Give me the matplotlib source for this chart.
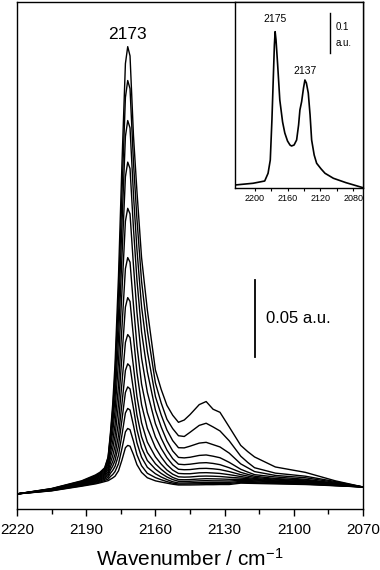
import matplotlib
matplotlib.use('Agg')
import matplotlib.pyplot as plt
from matplotlib.ticker import MultipleLocator, FixedLocator

plt.rcParams['font.family'] = ['Liberation Sans', 'DejaVu Sans']
plt.rcParams['mathtext.fontset'] = 'custom'
plt.rcParams['mathtext.rm'] = 'Liberation Sans'
plt.rcParams['mathtext.it'] = 'Liberation Sans:italic'

# ---------------- data (absorbance in milli-a.u.) ----------------
wavenumber = [2220, 2205, 2192, 2186, 2184, 2182, 2180.5, 2179.5, 2178.5, 2177.5,
              2176, 2174.5, 2173, 2172, 2171, 2169.5, 2168, 2166, 2163.5, 2160,
              2157.5, 2155, 2152.5, 2150, 2147.5, 2145, 2141, 2138, 2135, 2132,
              2128, 2123, 2120, 2117, 2108, 2095, 2082, 2070]

curve_01 = [-4.5, -1, 4, 7.8, 9.6, 12.5, 19.5, 35, 54, 80, 137, 210, 275, 286, 280, 228, 192, 149, 115, 76,
            63.4, 53, 46.6, 42, 43.5, 47, 53.5, 55.5, 50.5, 48.5, 39, 27, 23, 19.5, 13, 9.5, 4, 0]
curve_02 = [-4.5, -1.1, 3.7, 7.3, 9.1, 11.8, 19, 33.5, 50.3, 73.4, 124.9, 190.9, 253, 264, 258.7, 210.7, 174,
            133.6, 101.6, 67.6, 54.6, 44, 37.9, 33.3, 32.8, 35.5, 40, 41.4, 39, 36.4, 30, 20, 16, 12.5, 9, 7,
            3.5, 0]
curve_03 = [-4.5, -1.25, 3.4, 6.8, 8.5, 11, 17.8, 31.5, 45.9, 65.8, 110.7, 170.6, 227.7, 238, 233.2, 189.6,
            154.2, 117.1, 88.1, 58.8, 46.8, 37, 30.1, 25.5, 25.4, 26.5, 28.5, 29, 27.5, 26, 22, 15, 12.5, 10,
            7.5, 6, 3, 0]
curve_04 = [-4.5, -1.4, 3.1, 6.35, 7.9, 10.25, 16.5, 29.1, 41.2, 58, 96.5, 149.8, 201.5, 211, 206.8, 167.7,
            134.5, 100.8, 74.9, 50, 39, 30, 23.4, 19.2, 18.9, 19.3, 20.5, 20.8, 20, 19, 16, 11.5, 9.7, 8, 6.5,
            5, 2.5, 0]
curve_05 = [-4.5, -1.5, 2.8, 5.9, 7.3, 9.5, 14.9, 25.9, 35.8, 49.5, 81.5, 127.3, 172.6, 181, 177.4, 143.6,
            113.5, 83.8, 61.5, 41.1, 31.7, 24, 18.4, 14.8, 14.5, 14.8, 15.6, 15.8, 15.3, 14.5, 12.5, 9.5, 8.2,
            7, 5.5, 4.5, 2.2, 0]
curve_06 = [-4.5, -1.6, 2.5, 5.4, 6.7, 8.75, 13.2, 22.1, 29.8, 40.5, 65.9, 103.8, 141.8, 149, 146, 118, 91.8,
            66.9, 48.4, 32.5, 25.1, 19, 14.4, 11.5, 11.2, 11.3, 12, 12.1, 11.8, 11.3, 10, 8, 7.1, 6.2, 5, 4, 2,
            0]
curve_07 = [-4.5, -1.75, 2.25, 4.9, 6.1, 8, 11.6, 18.9, 24.9, 33.2, 53.5, 84.9, 116.9, 123, 120.5, 97.2,
            74.4, 53.5, 38.1, 25.6, 19.5, 14.5, 11, 8.8, 8.6, 8.6, 9.2, 9.3, 9.1, 8.8, 8, 6.8, 6.1, 5.5, 4.5,
            3.5, 1.8, 0]
curve_08 = [-4.5, -1.9, 1.95, 4.4, 5.5, 7.25, 10, 15.7, 20.3, 26.6, 42.3, 67.7, 93.9, 99, 97, 78, 58.8, 41.7,
            29.2, 19.6, 14.9, 11, 8.3, 6.6, 6.4, 6.5, 7, 7.1, 7, 6.8, 6.3, 5.8, 5.4, 5, 4, 3.2, 1.6, 0]
curve_09 = [-4.5, -2, 1.65, 3.9, 4.9, 6.5, 8.7, 13.1, 16.5, 21.3, 33.6, 54.1, 75.7, 80, 78.4, 62.9, 46.7,
            32.6, 22.4, 15.1, 11.5, 8.5, 6.2, 4.8, 4.7, 4.8, 5.2, 5.4, 5.3, 5.2, 5, 5, 4.8, 4.5, 3.6, 2.8, 1.4,
            0]
curve_10 = [-4.5, -2.1, 1.4, 3.45, 4.4, 5.75, 7.5, 11, 13.6, 17.2, 26.8, 43.6, 61.4, 65, 63.7, 51, 37.2,
            25.5, 17.2, 11.6, 8.8, 6.5, 4.8, 3.7, 3.6, 3.7, 4, 4.1, 4, 4, 3.9, 4.3, 4.2, 4, 3.2, 2.5, 1.2, 0]
curve_11 = [-4.5, -2.25, 1.1, 3, 3.8, 5, 6.3, 8.9, 10.8, 13.4, 20.7, 33.8, 48.1, 51, 50, 39.9, 28.7, 19.3,
            12.8, 8.6, 6.5, 4.8, 3.4, 2.6, 2.6, 2.7, 2.9, 3, 3, 3, 3, 3.6, 3.5, 3.4, 2.8, 2.2, 1, 0]
curve_12 = [-4.5, -2.4, 0.8, 2.5, 3.2, 4.25, 5.1, 6.8, 8.1, 10, 15.1, 25, 35.8, 38, 37.2, 29.7, 20.9, 13.8,
            8.9, 6.1, 4.7, 3.5, 2.5, 1.9, 1.9, 2, 2.1, 2.2, 2.2, 2.3, 2.3, 3, 2.9, 2.8, 2.4, 1.9, 0.9, 0]
curve_13 = [-4.5, -2.5, 0.5, 2, 2.7, 3.5, 4.1, 5, 5.9, 7, 10.5, 17.5, 25.5, 27, 26.5, 21, 14.5, 9.5, 6, 4,
            3.2, 2.5, 1.8, 1.3, 1.3, 1.3, 1.4, 1.5, 1.5, 1.6, 1.6, 2.5, 2.4, 2.3, 2, 1.6, 0.8, 0]

spectra = [curve_01, curve_02, curve_03, curve_04, curve_05, curve_06, curve_07,
           curve_08, curve_09, curve_10, curve_11, curve_12, curve_13]

inset_wavenumber = [2224, 2202, 2187.8, 2183.7, 2181, 2179, 2177, 2176, 2175.1, 2174, 2172, 2169.4,
                    2166, 2163.3, 2160, 2157, 2155.1, 2152, 2148.9, 2146.5, 2144.9, 2142.8, 2140.5,
                    2138.8, 2137, 2134.7, 2132.5, 2130.6, 2127.5, 2124.5, 2119, 2114.3, 2104.1,
                    2088.7, 2068.1]
inset_absorbance = [7.5, 11.8, 17.5, 36.8, 70, 170, 295, 357.5, 390.8, 370, 307.5, 220,
                    165, 137.5, 117.5, 107.5, 105, 107.5, 120, 157.5, 195, 215.8, 250,
                    270, 262.5, 237.5, 182.5, 120, 82.5, 61.8, 47.5, 36.8, 24.3,
                    13.3, 0.8]

main_ticks = [2220, 2190, 2160, 2130, 2100, 2070]
inset_ticks = [2200, 2160, 2120, 2080]

main_peak_label = "2173"
inset_peak_labels = ["2175", "2137"]
main_scale_value = 50     # 0.05 a.u.
inset_scale_value = 100   # 0.1 a.u.

# ---------------- figure ----------------
W, H = 380, 570
fig = plt.figure(figsize=(W / 100, H / 100), dpi=100)

ax = fig.add_axes([17 / W, (H - 509) / H, 346 / W, 507 / H])
for s in spectra:
    ax.plot(wavenumber, s, color='black', lw=1.0, solid_joinstyle='round')
ax.set_xlim(2220, 2070)
ax.set_ylim(-14.3, 315)
ax.set_xticks(main_ticks)
ax.xaxis.set_minor_locator(MultipleLocator(15))
ax.set_yticks([])
for sp in ax.spines.values():
    sp.set_linewidth(1.0)
ax.tick_params(axis='x', which='major', direction='out', length=4.7, width=1.0,
               labelsize=11, pad=5.5)
ax.tick_params(axis='x', which='minor', direction='out', length=3.5, width=1.0)
ax.set_xlabel('Wavenumber / cm$^{\\mathregular{-1}}$', fontsize=15, labelpad=8)

ax.text(2172.2, 294, main_peak_label, ha='center', va='center', fontsize=12.5)
ax.plot([2117, 2117], [84.4, 84.4 + main_scale_value], color='black', lw=1.3)
ax.text(2112.2, 109.7, '0.05 a.u.', ha='left', va='center', fontsize=12)

axi = fig.add_axes([235 / W, (H - 188) / H, 128 / W, 186 / H])
axi.plot(inset_wavenumber, inset_absorbance, color='black', lw=1.2, solid_joinstyle='round')
axi.set_xlim(2224, 2068)
axi.set_ylim(0, 465)
axi.set_yticks([])
axi.xaxis.set_major_locator(FixedLocator(inset_ticks))
axi.xaxis.set_minor_locator(FixedLocator([2180, 2140, 2100]))
for sp in axi.spines.values():
    sp.set_linewidth(1.0)
axi.tick_params(axis='x', which='both', direction='out', length=2, width=0.8,
                labelsize=6.5, pad=2)
axi.text(2175.5, 422.5, inset_peak_labels[0], ha='center', va='center', fontsize=7.5)
axi.text(2138.2, 292.5, inset_peak_labels[1], ha='center', va='center', fontsize=7.5)
axi.plot([2108.2, 2108.2], [337.5, 337.5 + inset_scale_value], color='black', lw=1.0)
axi.text(2101, 402.5, '0.1', ha='left', va='center', fontsize=7)
axi.text(2101, 362.5, 'a.u.', ha='left', va='center', fontsize=7)

fig.savefig('out.png', dpi=100)
